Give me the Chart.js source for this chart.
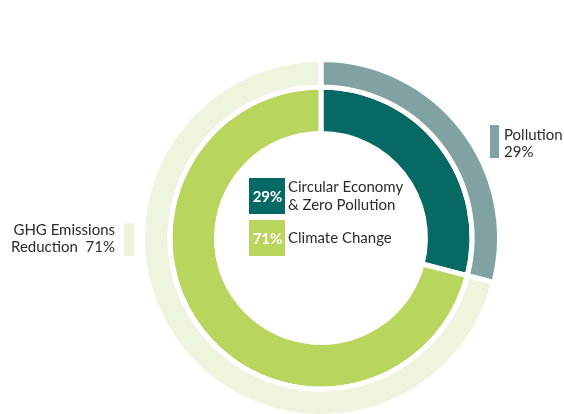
<!DOCTYPE html>
<html>
<head>
<meta charset="utf-8">
<script src="https://cdn.jsdelivr.net/npm/chart.js@4.4.1/dist/chart.umd.min.js"></script>
<style>
  html, body { margin: 0; padding: 0; background: #fff; }
  #Caja { position: relative; width: 564px; height: 414px; }
</style>
</head>
<body>
<div id="Caja"><canvas id="Grafico" width="564" height="414"></canvas></div>
<script>
// Outer ring: target areas, inner ring: themes
const EtiquetasExterior = ['Pollution', 'GHG Emissions Reduction'];
const ValoresExterior   = [29, 71];
const EtiquetasInterior = ['Circular Economy & Zero Pollution', 'Climate Change'];
const ValoresInterior   = [29, 71];

const ColoresExterior = ['#81a2a2', '#eef5df'];
const ColoresInterior = ['#066963', '#b9d55e'];

const Fuente = 'Lato, "Open Sans", sans-serif';
const ColorTexto = '#2b2b2b';

// Labels drawn on the canvas after the rings
const PluginEtiquetas = {
  id: 'Etiquetas',
  afterDraw(Chart) {
    const C = Chart.ctx;
    C.save();
    C.textBaseline = 'alphabetic';

    // Pollution (outer, right)
    C.fillStyle = ColoresExterior[0];
    C.fillRect(490, 125, 9, 33);
    C.fillStyle = ColorTexto;
    C.font = `15px ${Fuente}`;
    C.textAlign = 'left';
    C.fillText(EtiquetasExterior[0], 504, 140);
    C.fillText(`${ValoresExterior[0]}%`, 504, 157);

    // GHG (outer, left)
    C.fillStyle = ColoresExterior[1];
    C.fillRect(124, 223, 10, 33);
    C.fillStyle = ColorTexto;
    C.textAlign = 'right';
    C.fillText('GHG Emissions', 115, 235);
    C.fillText(`Reduction  ${ValoresExterior[1]}%`, 115, 252);

    // Centre legend
    const Filas = [
      { y: 178, lineas: ['Circular Economy', '& Zero Pollution'], base: [192, 210] },
      { y: 220, lineas: ['Climate Change'], base: [243] }
    ];
    Filas.forEach((F, i) => {
      C.fillStyle = ColoresInterior[i];
      C.fillRect(249, F.y, 36, 36);
      C.fillStyle = '#ffffff';
      C.font = `bold 15px ${Fuente}`;
      C.textAlign = 'center';
      C.fillText(`${ValoresInterior[i]}%`, 267.5, F.y + 23.5);
      C.fillStyle = ColorTexto;
      C.font = `15px ${Fuente}`;
      C.textAlign = 'left';
      F.lineas.forEach((L, j) => C.fillText(L, 288, F.base[j]));
    });
    C.restore();
  }
};

new Chart(document.getElementById('Grafico').getContext('2d'), {
  type: 'doughnut',
  data: {
    datasets: [
      {
        label: 'Exterior',
        labels: EtiquetasExterior,
        data: ValoresExterior,
        backgroundColor: ColoresExterior,
        borderColor: '#ffffff',
        borderWidth: 5,
        weight: 27,
        clip: false
      },
      {
        label: 'Interior',
        labels: EtiquetasInterior,
        data: ValoresInterior,
        backgroundColor: ColoresInterior,
        borderColor: '#ffffff',
        borderWidth: 5,
        weight: 46,
        clip: false
      }
    ]
  },
  options: {
    responsive: false,
    animation: false,
    radius: 178.5,
    cutout: '58.5%',
    layout: { padding: { left: 78, right: 0, top: 62, bottom: 0 } },
    plugins: {
      legend: { display: false },
      tooltip: { enabled: false }
    }
  },
  plugins: [PluginEtiquetas]
});
</script>
</body>
</html>
